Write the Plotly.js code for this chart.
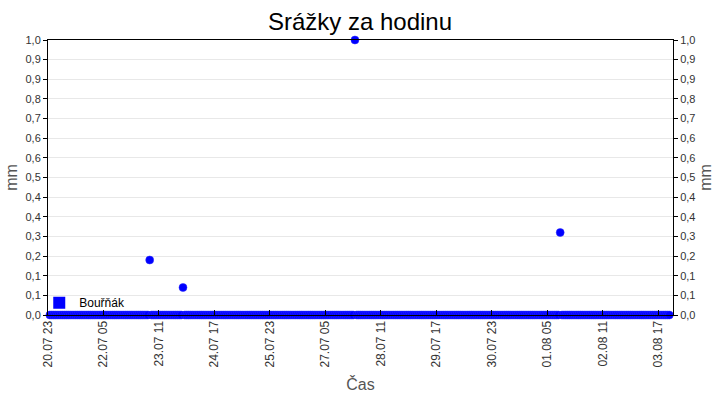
<!DOCTYPE html>
<html>
<head>
<meta charset="utf-8">
<script src="https://cdn.plot.ly/plotly-3.0.1.min.js"></script>
<style>
  body { margin: 0; background: #fff; }
  #chart { width: 720px; height: 400px; }
</style>
</head>
<body>
<div id="chart"></div>
<script>
// hourly precipitation, one row per day, 21.07 - 03.08
var startHour = '2024-07-21 00:00';
var days = ['21.07', '22.07', '23.07', '24.07', '25.07', '26.07', '27.07',
            '28.07', '29.07', '30.07', '31.07', '01.08', '02.08', '03.08'];
var rainByDay = [
  [0,0,0,0,0,0,0,0,0,0,0,0,0,0,0,0,0,0,0,0,0,0,0,0],
  [0,0,0,0,0,0,0,0,0,0,0,0,0,0,0,0,0,0,0,0,0,0,0,0],
  [0,0,0,0,0,0,0.2,0,0,0,0,0,0,0,0,0,0,0,0,0,0,0,0,0],
  [0.1,0,0,0,0,0,0,0,0,0,0,0,0,0,0,0,0,0,0,0,0,0,0,0],
  [0,0,0,0,0,0,0,0,0,0,0,0,0,0,0,0,0,0,0,0,0,0,0,0],
  [0,0,0,0,0,0,0,0,0,0,0,0,0,0,0,0,0,0,0,0,0,0,0,0],
  [0,0,0,0,0,0,0,0,0,0,0,0,0,0,0,0,0,0,0,0,0,1.0,0,0],
  [0,0,0,0,0,0,0,0,0,0,0,0,0,0,0,0,0,0,0,0,0,0,0,0],
  [0,0,0,0,0,0,0,0,0,0,0,0,0,0,0,0,0,0,0,0,0,0,0,0],
  [0,0,0,0,0,0,0,0,0,0,0,0,0,0,0,0,0,0,0,0,0,0,0,0],
  [0,0,0,0,0,0,0,0,0,0,0,0,0,0,0,0,0,0,0,0,0,0,0,0],
  [0,0,0,0,0,0,0,0,0,0,0,0,0.3,0,0,0,0,0,0,0,0,0,0,0],
  [0,0,0,0,0,0,0,0,0,0,0,0,0,0,0,0,0,0,0,0,0,0,0,0],
  [0,0,0,0,0,0,0,0,0,0,0,0,0,0,0,0,0,0,0,0,0,0,0,0]
];
var stationName = 'Bouřňák';

// flatten into a time series
var times = [];
var rain = [];
var t0 = new Date(startHour.replace(' ', 'T') + ':00Z').getTime();
for (var d = 0; d < rainByDay.length; d++) {
  for (var h = 0; h < rainByDay[d].length; h++) {
    var dt = new Date(t0 + (d * 24 + h) * 3600000);
    times.push(dt.toISOString().slice(0, 16).replace('T', ' '));
    rain.push(rainByDay[d][h]);
  }
}

var trace = {
  x: times,
  y: rain,
  type: 'scatter',
  mode: 'markers',
  name: stationName,
  showlegend: false,
  cliponaxis: false,
  marker: { color: '#0000ff', size: 8, line: { color: '#2a2aff', width: 0.5 } }
};

// legend entry with a square symbol, also hosts the right axis
var legendTrace = {
  x: [null],
  y: [null],
  yaxis: 'y2',
  type: 'scatter',
  mode: 'markers',
  name: stationName,
  marker: { color: '#0000ff', symbol: 'square', size: 12 }
};

var tickFont = { family: 'Liberation Sans, Arial, sans-serif', size: 11, color: '#333' };
var titleFont = { family: 'Liberation Sans, Arial, sans-serif', size: 16, color: '#555' };

var layout = {
  width: 720,
  height: 400,
  margin: { l: 48, r: 47, t: 40, b: 85 },
  paper_bgcolor: '#fff',
  plot_bgcolor: '#fff',
  separators: ', ',
  title: {
    text: 'Srážky za hodinu',
    x: 0.5, xanchor: 'center', y: 0.945, yanchor: 'middle',
    font: { family: 'Liberation Sans, Arial, sans-serif', size: 24, color: '#000' }
  },
  xaxis: {
    type: 'date',
    range: ['2024-07-20 23:00', '2024-08-04 01:00'],
    tick0: '2024-07-20 23:00',
    dtick: 30 * 3600000,
    tickformat: '%d.%m %H',
    tickangle: -90,
    ticks: 'inside',
    ticklen: 5,
    tickcolor: '#000',
    tickfont: { family: 'Liberation Sans, Arial, sans-serif', size: 12, color: '#333' },
    showgrid: false,
    zeroline: false,
    showline: true,
    mirror: true,
    linecolor: '#000',
    linewidth: 1,
    title: { text: 'Čas', font: titleFont, standoff: 12 }
  },
  yaxis: {
    range: [0, 1],
    tickmode: 'linear',
    tick0: 0,
    dtick: 1 / 14,
    tickformat: '.1f',
    ticks: 'outside',
    ticklen: 4,
    tickcolor: '#000',
    tickfont: tickFont,
    showgrid: true,
    gridcolor: '#e8e8e8',
    zeroline: false,
    showline: true,
    linecolor: '#000',
    title: { text: 'mm', font: titleFont, standoff: 3 }
  },
  yaxis2: {
    overlaying: 'y',
    side: 'right',
    range: [0, 1],
    tickmode: 'linear',
    tick0: 0,
    dtick: 1 / 14,
    tickformat: '.1f',
    ticks: 'outside',
    ticklen: 4,
    tickcolor: '#000',
    tickfont: tickFont,
    showgrid: false,
    zeroline: false,
    showline: true,
    linecolor: '#000',
    title: { text: 'mm', font: titleFont, standoff: 5 }
  },
  showlegend: true,
  legend: {
    x: -0.014, y: -0.008, xanchor: 'left', yanchor: 'bottom',
    bgcolor: 'rgba(255,255,255,0)',
    font: { family: 'Liberation Sans, Arial, sans-serif', size: 12, color: '#000' },
    itemwidth: 30,
    tracegroupgap: 0
  }
};

Plotly.newPlot('chart', [trace, legendTrace], layout, { displayModeBar: false, staticPlot: true });
</script>
</body>
</html>
